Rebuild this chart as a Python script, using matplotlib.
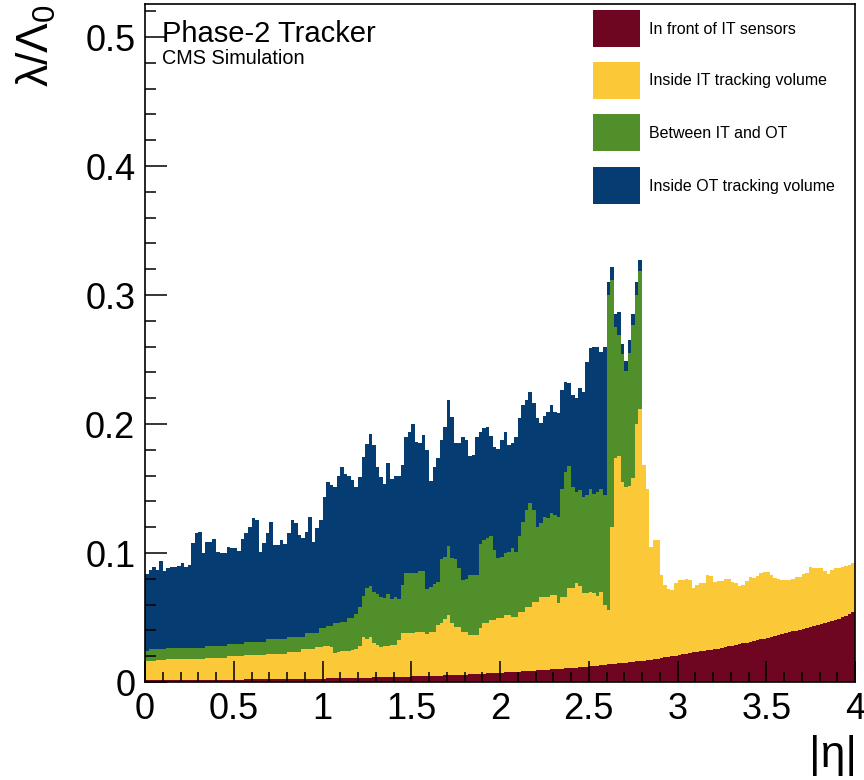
import numpy as np
import matplotlib
matplotlib.use("Agg")
import matplotlib.pyplot as plt
from matplotlib.patches import Rectangle

plt.rcParams['font.family'] = ['Liberation Sans', 'DejaVu Sans']
plt.rcParams['mathtext.fontset'] = 'custom'
plt.rcParams['mathtext.rm'] = 'Liberation Sans'
plt.rcParams['mathtext.it'] = 'Liberation Sans'
plt.rcParams['mathtext.sf'] = 'Liberation Sans'

# ---------------- data: |eta| histogram, 200 bins from 0 to 4 ----------------
eta_min, eta_max, n_bins = 0.0, 4.0, 200

series_labels = ["In front of IT sensors", "Inside IT tracking volume",
                 "Between IT and OT", "Inside OT tracking volume"]

# cumulative stack tops (lambda/Lambda_0)
front_top = [
    0.0012,0.0012,0.0012,0.0013,0.0013,0.0013,0.0014,0.0014,0.0014,0.0015,
    0.0015,0.0015,0.0015,0.0016,0.0016,0.0016,0.0016,0.0017,0.0017,0.0017,
    0.0017,0.0018,0.0018,0.0018,0.0018,0.0019,0.0019,0.0019,0.0020,0.0020,
    0.0020,0.0020,0.0021,0.0021,0.0021,0.0022,0.0022,0.0022,0.0023,0.0023,
    0.0023,0.0024,0.0024,0.0024,0.0025,0.0025,0.0026,0.0026,0.0026,0.0027,
    0.0027,0.0028,0.0028,0.0029,0.0029,0.0030,0.0030,0.0031,0.0031,0.0032,
    0.0032,0.0033,0.0033,0.0034,0.0035,0.0035,0.0036,0.0036,0.0037,0.0038,
    0.0038,0.0039,0.0040,0.0041,0.0042,0.0043,0.0044,0.0045,0.0046,0.0047,
    0.0047,0.0048,0.0049,0.0050,0.0051,0.0052,0.0053,0.0055,0.0056,0.0057,
    0.0058,0.0059,0.0061,0.0062,0.0064,0.0065,0.0067,0.0068,0.0070,0.0071,
    0.0072,0.0074,0.0075,0.0077,0.0079,0.0080,0.0082,0.0084,0.0086,0.0088,
    0.0090,0.0092,0.0094,0.0096,0.0098,0.0100,0.0102,0.0104,0.0106,0.0108,
    0.0110,0.0112,0.0114,0.0117,0.0119,0.0122,0.0124,0.0127,0.0130,0.0133,
    0.0136,0.0139,0.0142,0.0145,0.0148,0.0151,0.0154,0.0157,0.0160,0.0163,
    0.0166,0.0169,0.0172,0.0176,0.0180,0.0185,0.0190,0.0195,0.0200,0.0205,
    0.0210,0.0214,0.0219,0.0224,0.0229,0.0234,0.0239,0.0243,0.0247,0.0251,
    0.0255,0.0259,0.0264,0.0270,0.0276,0.0282,0.0288,0.0294,0.0300,0.0305,
    0.0311,0.0317,0.0323,0.0330,0.0336,0.0343,0.0350,0.0357,0.0364,0.0371,
    0.0380,0.0386,0.0392,0.0399,0.0406,0.0413,0.0420,0.0427,0.0434,0.0441,
    0.0449,0.0457,0.0465,0.0474,0.0483,0.0492,0.0501,0.0511,0.0525,0.0540,
]

it_top = [
    0.0165,0.0165,0.0165,0.0170,0.0170,0.0170,0.0175,0.0175,0.0175,0.0175,
    0.0175,0.0180,0.0180,0.0180,0.0180,0.0180,0.0180,0.0188,0.0188,0.0188,
    0.0188,0.0188,0.0188,0.0200,0.0200,0.0200,0.0200,0.0200,0.0210,0.0210,
    0.0210,0.0210,0.0210,0.0210,0.0220,0.0220,0.0220,0.0220,0.0220,0.0220,
    0.0235,0.0235,0.0235,0.0235,0.0253,0.0253,0.0253,0.0253,0.0273,0.0273,
    0.0280,0.0280,0.0270,0.0227,0.0230,0.0243,0.0243,0.0243,0.0250,0.0253,
    0.0280,0.0346,0.0330,0.0345,0.0300,0.0290,0.0269,0.0279,0.0279,0.0287,
    0.0287,0.0326,0.0377,0.0377,0.0377,0.0377,0.0390,0.0390,0.0390,0.0372,
    0.0390,0.0390,0.0442,0.0460,0.0486,0.0519,0.0455,0.0424,0.0424,0.0390,
    0.0390,0.0364,0.0364,0.0364,0.0416,0.0455,0.0455,0.0481,0.0481,0.0494,
    0.0494,0.0519,0.0519,0.0506,0.0506,0.0545,0.0545,0.0584,0.0584,0.0623,
    0.0623,0.0662,0.0662,0.0662,0.0674,0.0674,0.0610,0.0662,0.0662,0.0726,
    0.0726,0.0770,0.0744,0.0687,0.0687,0.0700,0.0690,0.0670,0.0700,0.0600,
    0.0560,0.1200,0.1740,0.1750,0.1550,0.1510,0.1520,0.1580,0.2000,0.2120,
    0.1680,0.1500,0.1050,0.1100,0.1100,0.0830,0.0755,0.0720,0.0713,0.0765,
    0.0790,0.0790,0.0800,0.0790,0.0726,0.0750,0.0770,0.0770,0.0830,0.0820,
    0.0775,0.0786,0.0786,0.0796,0.0796,0.0775,0.0765,0.0744,0.0755,0.0786,
    0.0816,0.0810,0.0825,0.0842,0.0855,0.0855,0.0830,0.0810,0.0795,0.0790,
    0.0790,0.0790,0.0800,0.0816,0.0816,0.0840,0.0842,0.0894,0.0885,0.0880,
    0.0885,0.0860,0.0837,0.0870,0.0881,0.0880,0.0894,0.0900,0.0907,0.0920,
]

# the two outer layers only extend up to |eta| = 2.8 (first 140 bins)
between_top = [
    0.0243,0.0253,0.0253,0.0253,0.0253,0.0253,0.0260,0.0260,0.0260,0.0260,
    0.0260,0.0266,0.0266,0.0266,0.0266,0.0266,0.0266,0.0279,0.0279,0.0279,
    0.0279,0.0279,0.0279,0.0294,0.0294,0.0294,0.0294,0.0294,0.0312,0.0312,
    0.0312,0.0312,0.0312,0.0312,0.0330,0.0330,0.0330,0.0330,0.0330,0.0330,
    0.0351,0.0351,0.0351,0.0351,0.0351,0.0382,0.0382,0.0382,0.0382,0.0415,
    0.0415,0.0433,0.0433,0.0459,0.0459,0.0467,0.0467,0.0493,0.0493,0.0530,
    0.0580,0.0670,0.0725,0.0745,0.0700,0.0680,0.0660,0.0649,0.0680,0.0640,
    0.0660,0.0640,0.0750,0.0842,0.0842,0.0842,0.0845,0.0863,0.0860,0.0720,
    0.0740,0.0760,0.0778,0.0950,0.0972,0.1051,0.0960,0.0955,0.0880,0.0790,
    0.0795,0.0830,0.0830,0.0830,0.1070,0.1101,0.1115,0.1132,0.1023,0.0960,
    0.0972,0.1000,0.1010,0.1036,0.1010,0.1130,0.1243,0.1333,0.1385,0.1333,
    0.1204,0.1230,0.1280,0.1270,0.1313,0.1295,0.1280,0.1500,0.1630,0.1674,
    0.1514,0.1475,0.1488,0.1437,0.1450,0.1500,0.1460,0.1470,0.1500,0.1450,
    0.3000,0.3120,0.2750,0.2690,0.2540,0.2410,0.2550,0.2770,0.3000,0.3190,
]

ot_top = [
    0.0835,0.0868,0.0894,0.0868,0.0940,0.0863,0.0880,0.0889,0.0894,0.0900,
    0.0920,0.0894,0.0907,0.1080,0.1157,0.1165,0.0997,0.1087,0.1087,0.1110,
    0.1005,0.0997,0.0997,0.1044,0.1040,0.1036,0.1015,0.1110,0.1152,0.1198,
    0.1268,0.1255,0.1010,0.1075,0.1152,0.1242,0.1062,0.1062,0.1100,0.1070,
    0.1152,0.1255,0.1230,0.1140,0.1113,0.1165,0.1280,0.1087,0.1190,0.1255,
    0.1435,0.1550,0.1525,0.1510,0.1595,0.1667,0.1610,0.1600,0.1564,0.1510,
    0.1590,0.1745,0.1848,0.1925,0.1835,0.1670,0.1590,0.1535,0.1695,0.1570,
    0.1600,0.1600,0.1680,0.1900,0.1940,0.2000,0.1860,0.1850,0.1915,0.1800,
    0.1560,0.1670,0.1735,0.1876,0.1980,0.2186,0.2057,0.1850,0.1850,0.1900,
    0.1876,0.1750,0.1760,0.1900,0.1940,0.1967,0.1975,0.1907,0.1824,0.1810,
    0.1876,0.1940,0.1837,0.1850,0.1900,0.2050,0.2147,0.2186,0.2250,0.2160,
    0.2044,0.2005,0.2062,0.2096,0.2147,0.2096,0.2083,0.2264,0.2328,0.2320,
    0.2225,0.2199,0.2280,0.2250,0.2480,0.2587,0.2600,0.2600,0.2560,0.2600,
    0.3100,0.3220,0.2850,0.2870,0.2620,0.2490,0.2650,0.2850,0.3100,0.3270,
]

colors = ["#6e0621", "#fbc937", "#518f2b", "#053d73"]

# ---------------- figure ----------------
W, H = 864, 780
fig = plt.figure(figsize=(W / 100, H / 100), dpi=100)
ax = fig.add_axes([145 / W, 1 - 682 / H, (855 - 145) / W, (682 - 3.5) / H])

edges = np.linspace(eta_min, eta_max, n_bins + 1)
stack = [front_top, it_top, between_top, ot_top]
# draw back-to-front, each filled from zero up to its stack top
for vals, col in reversed(list(zip(stack, colors))):
    vals = np.asarray(vals)
    ax.stairs(vals, edges[:len(vals) + 1], baseline=0, fill=True,
              color=col, lw=0, zorder=1)

ax.set_xlim(0, 4)
ax.set_ylim(0, 0.526)
ax.set_axisbelow(False)

ax.set_xticks(np.arange(0, 4.01, 0.5))
ax.set_xticklabels(["0", "0.5", "1", "1.5", "2", "2.5", "3", "3.5", "4"])
ax.set_xticks(np.arange(0, 4.01, 0.1), minor=True)
ax.set_yticks(np.arange(0, 0.51, 0.1))
ax.set_yticklabels(["0", "0.1", "0.2", "0.3", "0.4", "0.5"])
ax.set_yticks(np.arange(0, 0.521, 0.02), minor=True)

ax.tick_params(axis='both', which='both', direction='in', color='black',
               top=False, right=False, width=1.1)
ax.tick_params(axis='y', which='major', length=16, labelsize=26, pad=7)
ax.tick_params(axis='y', which='minor', length=8)
ax.tick_params(axis='x', which='major', length=15, labelsize=26, pad=7)
ax.tick_params(axis='x', which='minor', length=7.5)
for s in ax.spines.values():
    s.set_linewidth(1.2)
    s.set_zorder(3)

# axis titles
fig.text(857 / W, 1 - 776 / H, "|η|", fontsize=32, ha='right', va='bottom')
fig.text(36 / W, 1 - 4 / H, r"$\mathregular{\lambda/\Lambda_{0}}$", fontsize=32,
         rotation=90, ha='center', va='top')

# header texts
fig.text(162 / W, 1 - 34 / H, "Phase-2 Tracker", fontsize=21, ha='left', va='center')
fig.text(162 / W, 1 - 58 / H, "CMS Simulation", fontsize=14.3, ha='left', va='center')

# legend (drawn manually, no frame)
box_tops = [10, 62, 114, 167]
for lab, col, yt in zip(series_labels, colors, box_tops):
    fig.add_artist(Rectangle((593 / W, 1 - (yt + 37) / H), 47 / W, 37 / H,
                             transform=fig.transFigure, facecolor=col,
                             edgecolor='none'))
    fig.text(649 / W, 1 - (yt + 19) / H, lab, fontsize=11.5, ha='left', va='center')

fig.savefig("out.png", dpi=100)
